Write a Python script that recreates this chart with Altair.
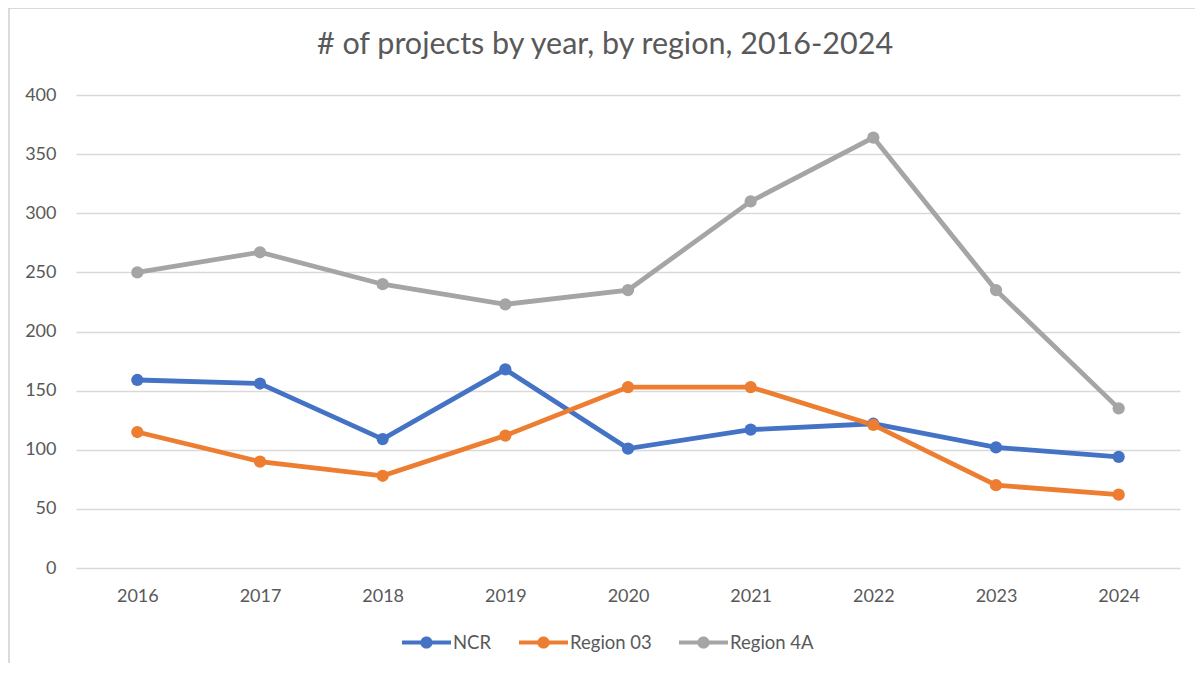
import altair as alt
import pandas as pd

years = ["2016", "2017", "2018", "2019", "2020", "2021", "2022", "2023", "2024"]
ncr = [159, 156, 109, 168, 101, 117, 122, 102, 94]
region03 = [115, 90, 78, 112, 153, 153, 121, 70, 62]
region4a = [250, 267, 240, 223, 235, 310, 364, 235, 135]
series_names = ["NCR", "Region 03", "Region 4A"]
colors = ["#4472C4", "#ED7D31", "#A5A5A5"]
title_text = "# of projects by year, by region, 2016-2024"

rows = []
for name, vals in zip(series_names, [ncr, region03, region4a]):
    for y, v in zip(years, vals):
        rows.append({"Year": y, "Region": name, "Projects": v})
df = pd.DataFrame(rows)

FONT = "Lato"
GRAY = "#595959"

legend_symbol = (
    "M-1,-0.08H-0.22V0.08H-1Z"
    "M0.22,-0.08H1V0.08H0.22Z"
    "M-0.25,0A0.25,0.25 0 1,1 0.25,0A0.25,0.25 0 1,1 -0.25,0Z"
)

color_scale = alt.Scale(domain=series_names, range=colors)

x = alt.X(
    "Year:O",
    sort=years,
    scale=alt.Scale(paddingInner=1, paddingOuter=0.5),
    axis=alt.Axis(
        title=None, labelAngle=0, domain=False, ticks=False, grid=False,
        labelFont=FONT, labelFontSize=18, labelColor=GRAY, labelPadding=19,
    ),
)
y = alt.Y(
    "Projects:Q",
    scale=alt.Scale(domain=[0, 400], nice=False),
    axis=alt.Axis(
        title=None, values=[0, 50, 100, 150, 200, 250, 300, 350, 400],
        domain=False, ticks=False, gridColor="#D9D9D9", gridWidth=1.5,
        labelFont=FONT, labelFontSize=18, labelColor=GRAY, labelPadding=20,
    ),
)

lines = alt.Chart(df).mark_line(strokeWidth=4.8).encode(
    x=x, y=y, color=alt.Color("Region:N", scale=color_scale)
)
points = alt.Chart(df).mark_circle(size=150, opacity=1).encode(
    x=x, y=y,
    color=alt.Color(
        "Region:N",
        scale=color_scale,
        legend=alt.Legend(
            title=None,
            orient="none",
            direction="horizontal",
            legendX=326,
            legendY=523,
            symbolType=legend_symbol,
            symbolSize=2400,
            symbolStrokeWidth=0,
            symbolOpacity=1,
            labelFont=FONT,
            labelFontSize=18.5,
            labelColor=GRAY,
            labelOffset=2,
            columnPadding=27,
        ),
    ),
)

border = alt.Chart(pd.DataFrame({"a": [0]})).mark_rect(
    fill=None, stroke="#D0D0D0", strokeWidth=1.5
).encode(
    x=alt.value(-67), x2=alt.value(1122), y=alt.value(-87), y2=alt.value(700)
)

title = alt.Chart(pd.DataFrame({"t": [title_text]})).mark_text(
    font=FONT, fontSize=30.5, color=GRAY, align="center", baseline="middle"
).encode(text="t:N", x=alt.value(529), y=alt.value(-50))

chart = alt.layer(border, title, lines, points).properties(
    width=1104,
    height=473,
    padding={"left": 68, "top": 87, "right": 15, "bottom": 95},
    autosize=alt.AutoSizeParams(type="none"),
).configure_view(stroke=None)

chart.save("out.html", embed_options={"renderer": "svg", "actions": False})
